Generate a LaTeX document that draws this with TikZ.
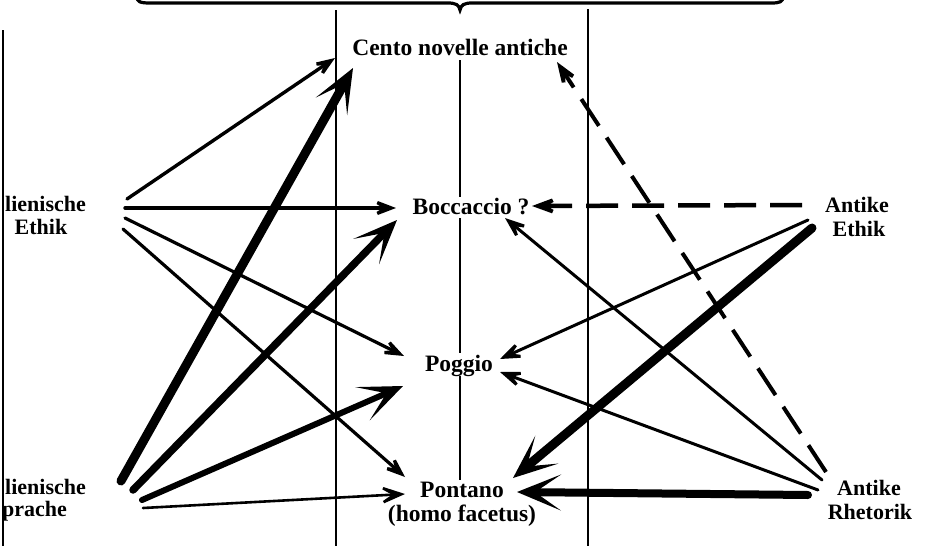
\documentclass[tikz,border=0pt]{standalone}
\usepackage{fontspec}
\setmainfont{Liberation Serif}
\usetikzlibrary{arrows.meta}
\begin{document}
\begin{tikzpicture}[x=1pt,y=-1pt,
  lbl/.style={inner sep=0pt, font=\bfseries\fontsize{23.5}{26}\selectfont},
  side/.style={inner sep=0pt, font=\bfseries\fontsize{22}{25}\selectfont},
  vline/.style={line width=2.2pt},
  thinarr/.style={line width=#1, line cap=round, -{Stealth[length=34pt,width=26pt,inset=21pt]}},
  thickarr/.style={line width=#1, line cap=round, -{Stealth[length=44pt,width=36pt,inset=26pt]}},
  dasharr/.style={line width=#1, dash pattern=on 32pt off 14pt, -{Stealth[length=38pt,width=28pt,inset=23pt]}}
]
\useasboundingbox (0,0) rectangle (926,546);
\clip (0,0) rectangle (926,546);
% frame lines
\draw[line width=3.2pt] (137,-4) .. controls (137,2) and (140,3) .. (150,3) -- (448,3)
  .. controls (456,3) and (459,5) .. (460,10) .. controls (461,5) and (464,3) .. (472,3)
  -- (771,3) .. controls (780,3) and (783,2) .. (783,-4);
\draw[vline] (336,10) -- (336,546);
\draw[vline] (588,9) -- (588,546);
\draw[vline] (460,60) -- (460,197);
\draw[vline] (460,218) -- (460,353);
\draw[vline] (460,376) -- (460,480);
\draw[line width=1.8pt] (3,30) -- (3,546);
% nodes
\node[lbl] (cento) at (460,47) {Cento novelle antiche};
\node[lbl] (bocc) at (471,207) {Boccaccio ?};
\node[lbl] (poggio) at (459,366) {Poggio};
\node[lbl] (pontano) at (462,490) {Pontano};
\node[lbl] (facetus) at (462,516) {(homo facetus)};
\node[side, anchor=west] (leth1) at (5,204) {lienische};
\node[side] (leth2) at (41,227) {Ethik};
\node[side, anchor=west] (lspr1) at (5,487) {lienische};
\node[side, anchor=west] (lspr2) at (2,511) {prache};
\node[side] (aeth1) at (857,205) {Antike};
\node[side] (aeth2) at (859,229) {Ethik};
\node[side] (arh1) at (869,488) {Antike};
\node[side] (arh2) at (870,512) {Rhetorik};
% endpoints
\coordinate (e1) at (127,199); \coordinate (tc1) at (335,58);
\coordinate (e2) at (125,208); \coordinate (tb1) at (396,208);
\coordinate (e3) at (125,218); \coordinate (tp1) at (404,356);
\coordinate (e4) at (123,229); \coordinate (tn1) at (405,477);
\coordinate (s1) at (121,481); \coordinate (tc2) at (353,68);
\coordinate (s2) at (133,490); \coordinate (tb2) at (397,220);
\coordinate (s3) at (142,500); \coordinate (tp2) at (403,386);
\coordinate (s4) at (143,508); \coordinate (tn2) at (405,494);
\coordinate (a1) at (802,205); \coordinate (tb3) at (532,206);
\coordinate (a2) at (808,220); \coordinate (tp3) at (500,359);
\coordinate (a3) at (812,228); \coordinate (tn3) at (513,478);
\coordinate (r1) at (826,472); \coordinate (tc3) at (557,62);
\coordinate (r2) at (822,480); \coordinate (tb4) at (505,218);
\coordinate (r3) at (818,490); \coordinate (tp4) at (500,372);
\coordinate (r4) at (808,495); \coordinate (tn4) at (517,492);
% left arrows
\draw[thinarr=3.4pt] (e1) -- (tc1);
\draw[thinarr=3.4pt] (e2) -- (tb1);
\draw[thinarr=3.2pt] (e3) -- (tp1);
\draw[thinarr=3.2pt] (e4) -- (tn1);
\draw[thickarr=9pt] (s1) -- (tc2);
\draw[thickarr=7.5pt] (s2) -- (tb2);
\draw[thickarr=6pt] (s3) -- (tp2);
\draw[thinarr=2.6pt] (s4) -- (tn2);
% right arrows
\draw[dasharr=4.5pt] (a1) -- (tb3);
\draw[thinarr=3pt] (a2) -- (tp3);
\draw[thickarr=9pt] (a3) -- (tn3);
\draw[dasharr=4pt] (r1) -- (tc3);
\draw[thinarr=3pt] (r2) -- (tb4);
\draw[thinarr=3pt] (r3) -- (tp4);
\draw[thickarr=8pt] (r4) -- (tn4);
\end{tikzpicture}
\end{document}
